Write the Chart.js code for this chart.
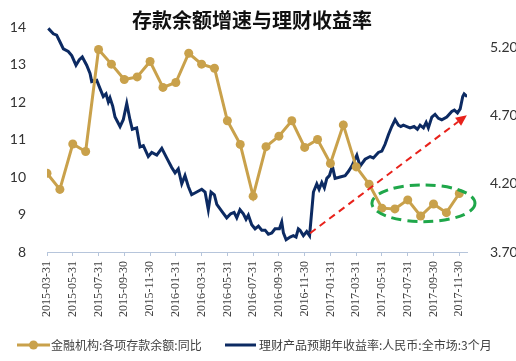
<!DOCTYPE html>
<html>
<head>
<meta charset="utf-8">
<script src="https://cdn.jsdelivr.net/npm/chart.js@4.4.0/dist/chart.umd.min.js"></script>
<style>
html, body { margin: 0; padding: 0; background: #fff; }
</style>
</head>
<body>
<canvas id="chart" width="516" height="361"></canvas>
<script>
// x ticks (every 2 months, month index 0 = 2015-03-31)
var tickLabels = ['2015-03-31','2015-05-31','2015-07-31','2015-09-30','2015-11-30',
    '2016-01-31','2016-03-31','2016-05-31','2016-07-31','2016-09-30','2016-11-30',
    '2017-01-31','2017-03-31','2017-05-31','2017-07-31','2017-09-30','2017-11-30'];
var rightTicks = [3.70, 4.20, 4.70, 5.20];

// 金融机构:各项存款余额:同比 (monthly, 2015-03 .. 2017-11)
var depositGrowth = [10.1, 9.67, 10.88, 10.68, 13.4, 13.01, 12.6, 12.67, 13.08, 12.39,
    12.52, 13.3, 13.01, 12.9, 11.5, 10.87, 9.49, 10.81, 11.09, 11.5,
    10.79, 11.0, 10.36, 11.39, 10.27, 9.81, 9.17, 9.15, 9.39, 8.96,
    9.28, 9.05, 9.56];

// 理财产品预期年收益率 (weekly, position in months since 2015-03-31)
var yieldMonths = [0.10,0.49,0.75,1.01,1.27,1.65,1.92,2.25,2.51,2.74,
    3.08,3.34,3.47,3.86,4.11,4.37,4.58,4.76,4.89,5.10,
    5.28,5.67,5.92,6.19,6.44,6.62,6.96,7.22,7.48,7.86,
    8.13,8.52,8.91,9.29,9.68,9.94,10.19,10.46,10.71,10.97,
    11.23,11.62,12.01,12.27,12.52,12.73,12.99,13.18,13.56,13.95,
    14.26,14.52,14.73,14.98,15.24,15.45,15.63,15.89,16.15,16.41,
    16.67,16.93,17.18,17.45,17.70,18.04,18.22,18.35,18.56,18.87,
    19.12,19.33,19.51,19.64,19.90,20.16,20.38,20.68,20.94,21.12,
    21.33,21.53,21.72,21.92,22.15,22.36,22.75,23.14,23.39,23.66,
    24.05,24.30,24.69,25.08,25.33,25.72,25.99,26.24,26.50,26.76,
    27.02,27.28,27.46,27.66,27.93,28.18,28.49,28.75,28.96,29.22,
    29.43,29.60,29.87,30.12,30.38,30.64,31.03,31.42,31.62,31.86,
    32.07,32.27,32.38,32.61];
var yieldRates = [5.34,5.30,5.29,5.24,5.19,5.17,5.14,5.07,5.11,5.13,
    5.07,5.01,4.95,4.96,4.90,4.84,4.86,4.80,4.83,4.77,
    4.69,4.62,4.67,4.79,4.67,4.60,4.61,4.47,4.48,4.40,
    4.43,4.41,4.46,4.39,4.32,4.28,4.31,4.20,4.26,4.18,
    4.12,4.14,4.16,4.14,4.01,4.14,4.12,4.05,4.00,3.95,
    3.98,3.99,3.95,4.01,3.98,3.94,3.97,3.90,3.87,3.89,
    3.86,3.86,3.83,3.84,3.87,3.87,3.92,3.84,3.79,3.81,
    3.82,3.81,3.87,3.86,3.82,3.85,3.82,4.14,4.20,4.16,
    4.21,4.17,4.24,4.26,4.33,4.24,4.25,4.26,4.29,4.33,
    4.41,4.33,4.38,4.40,4.39,4.43,4.44,4.49,4.56,4.62,
    4.67,4.63,4.62,4.63,4.62,4.61,4.62,4.60,4.63,4.61,
    4.65,4.61,4.69,4.71,4.68,4.67,4.69,4.73,4.74,4.72,
    4.75,4.84,4.86,4.84];

// annotations, in data units (month, left-axis value)
var arrowFrom = [20.42, 8.50];
var arrowTo = [32.59, 11.65];
var ringCenter = [29.22, 9.30];
var ringRadius = [4.0, 0.49];

var gold = '#C9A14B';
var navy = '#0C2A62';

var goldData = depositGrowth.map(function(v, i) { return { x: i, y: v }; });
var navyData = yieldMonths.map(function(m, i) { return { x: m, y: yieldRates[i] }; });

var extras = {
    id: 'extras',
    afterDatasetsDraw: function(chart) {
        var ctx = chart.ctx, sx = chart.scales.x, sy = chart.scales.y;
        // red dashed arrow
        var x1 = sx.getPixelForValue(arrowFrom[0]), y1 = sy.getPixelForValue(arrowFrom[1]);
        var x2 = sx.getPixelForValue(arrowTo[0]), y2 = sy.getPixelForValue(arrowTo[1]);
        var a = Math.atan2(y2 - y1, x2 - x1), head = 11;
        ctx.save();
        ctx.strokeStyle = '#E8221B';
        ctx.fillStyle = '#E8221B';
        ctx.lineWidth = 2;
        ctx.setLineDash([7, 5]);
        ctx.beginPath();
        ctx.moveTo(x1, y1);
        ctx.lineTo(x2 - head * Math.cos(a), y2 - head * Math.sin(a));
        ctx.stroke();
        ctx.setLineDash([]);
        ctx.beginPath();
        ctx.moveTo(x2, y2);
        ctx.lineTo(x2 - head * Math.cos(a) + 5 * Math.sin(a), y2 - head * Math.sin(a) - 5 * Math.cos(a));
        ctx.lineTo(x2 - head * Math.cos(a) - 5 * Math.sin(a), y2 - head * Math.sin(a) + 5 * Math.cos(a));
        ctx.closePath();
        ctx.fill();
        // green dashed ring
        var cx = sx.getPixelForValue(ringCenter[0]), cy = sy.getPixelForValue(ringCenter[1]);
        var rx = sx.getPixelForValue(ringCenter[0] + ringRadius[0]) - cx;
        var ry = sy.getPixelForValue(ringCenter[1] - ringRadius[1]) - cy;
        ctx.strokeStyle = '#1FA74A';
        ctx.lineWidth = 3;
        ctx.setLineDash([10, 6]);
        ctx.beginPath();
        ctx.ellipse(cx, cy, rx, ry, 0, 0, Math.PI * 2);
        ctx.stroke();
        ctx.restore();
    },
    afterDraw: function(chart) {
        var ctx = chart.ctx;
        ctx.save();
        // title
        ctx.fillStyle = '#111';
        ctx.font = 'bold 20px "Noto Sans CJK SC"';
        ctx.textAlign = 'center';
        ctx.textBaseline = 'middle';
        ctx.fillText('存款余额增速与理财收益率', 252, 20);
        // legend
        var ly = 345;
        ctx.font = '12px "Noto Sans CJK SC"';
        ctx.textAlign = 'left';
        ctx.fillStyle = '#404040';
        ctx.lineWidth = 3;
        ctx.strokeStyle = gold;
        ctx.beginPath(); ctx.moveTo(17, ly); ctx.lineTo(50, ly); ctx.stroke();
        ctx.fillStyle = gold;
        ctx.beginPath(); ctx.arc(33.5, ly, 4.5, 0, Math.PI * 2); ctx.fill();
        ctx.fillStyle = '#404040';
        ctx.fillText(chart.data.datasets[0].label, 51, ly);
        ctx.strokeStyle = navy;
        ctx.beginPath(); ctx.moveTo(225, ly); ctx.lineTo(256, ly); ctx.stroke();
        ctx.fillText(chart.data.datasets[1].label, 259, ly);
        ctx.restore();
    }
};

var axisColor = '#B6C5DB';

new Chart(document.getElementById('chart'), {
    type: 'line',
    data: {
        datasets: [
            {
                label: '金融机构:各项存款余额:同比',
                data: goldData,
                yAxisID: 'y',
                borderColor: gold,
                backgroundColor: gold,
                borderWidth: 3,
                pointRadius: 4.5,
                pointBorderWidth: 0,
                pointBackgroundColor: gold,
                tension: 0
            },
            {
                label: '理财产品预期年收益率:人民币:全市场:3个月',
                data: navyData,
                yAxisID: 'y1',
                borderColor: navy,
                backgroundColor: navy,
                borderWidth: 3,
                pointRadius: 0,
                tension: 0
            }
        ]
    },
    options: {
        responsive: false,
        animation: false,
        layout: { padding: { top: 27, bottom: 36, left: 0, right: 0 } },
        plugins: {
            legend: { display: false },
            tooltip: { enabled: false }
        },
        scales: {
            x: {
                type: 'linear',
                min: 0,
                max: 32.6,
                grid: { display: true, drawOnChartArea: false, drawTicks: true, tickLength: 4, color: axisColor },
                border: { display: true, color: axisColor, width: 1 },
                afterBuildTicks: function(s) {
                    s.ticks = tickLabels.map(function(_, i) { return { value: i * 2 }; });
                },
                ticks: {
                    autoSkip: false,
                    minRotation: 90,
                    maxRotation: 90,
                    padding: 5,
                    color: '#404040',
                    font: { family: 'Liberation Serif', size: 12 },
                    callback: function(v, i) { return tickLabels[i]; }
                },
                afterFit: function(s) { s.height = 73; }
            },
            y: {
                position: 'left',
                min: 8,
                max: 14,
                grid: { display: false },
                border: { display: false },
                ticks: {
                    stepSize: 1,
                    padding: 13,
                    color: '#333',
                    font: { family: 'Lato', size: 14 }
                },
                afterFit: function(s) { s.width = 47; }
            },
            y1: {
                position: 'right',
                min: 3.7,
                max: 5.35,
                grid: { display: false },
                border: { display: false },
                afterBuildTicks: function(s) {
                    s.ticks = rightTicks.map(function(v) { return { value: v }; });
                },
                ticks: {
                    padding: 15,
                    color: '#333',
                    font: { family: 'Lato', size: 14 },
                    callback: function(v) { return Number(v).toFixed(2); }
                },
                afterFit: function(s) { s.width = 49; }
            }
        }
    },
    plugins: [extras]
});
</script>
</body>
</html>
